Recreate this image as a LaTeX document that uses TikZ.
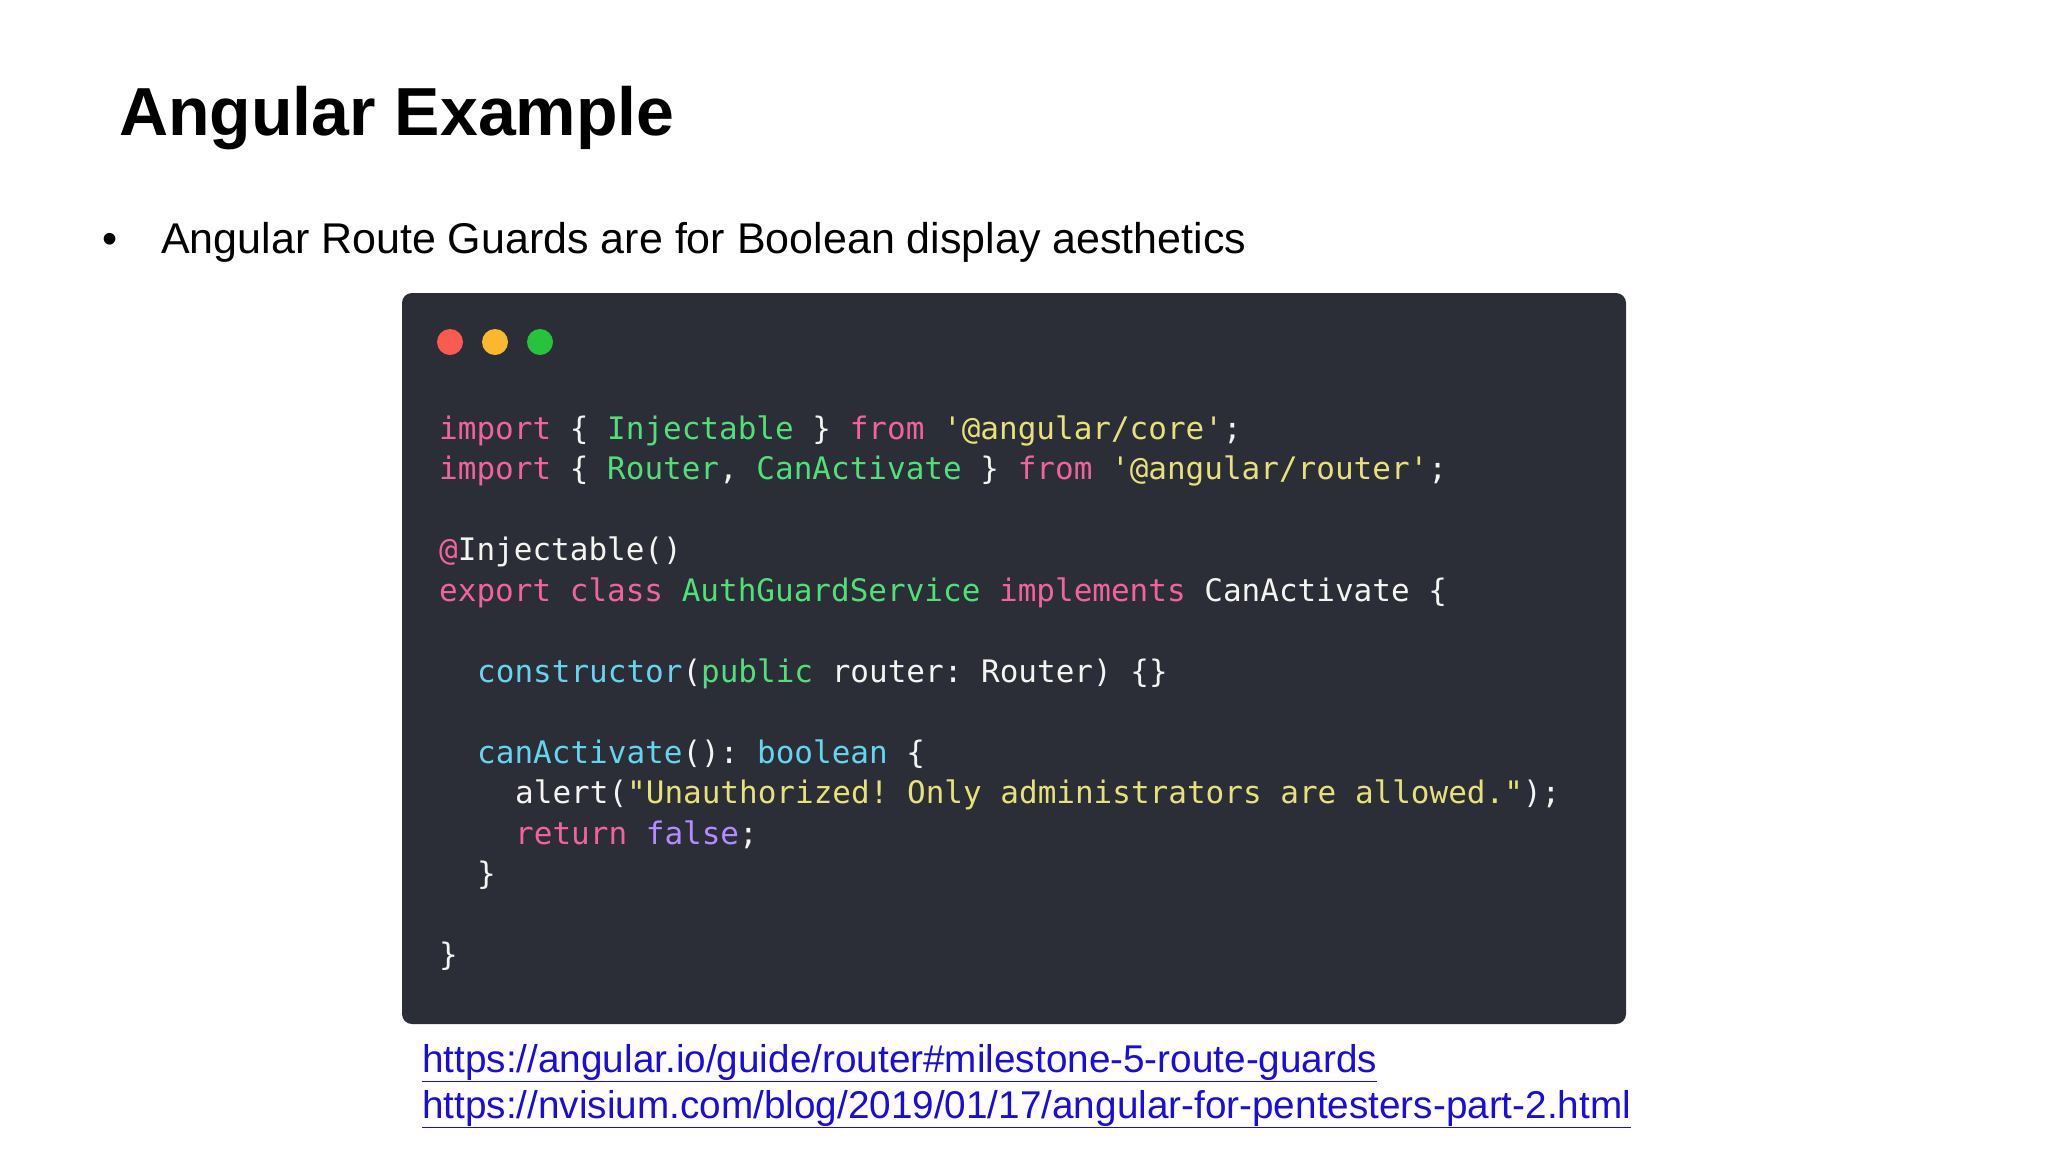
\documentclass[tikz,border=0pt]{standalone}
\usepackage{fontspec}
\setmainfont{Liberation Sans}
\setmonofont{DejaVu Sans Mono}
\definecolor{bg}{HTML}{2B2D37}
\definecolor{kw}{HTML}{F0649E}
\definecolor{gr}{HTML}{50E07A}
\definecolor{st}{HTML}{E8E17A}
\definecolor{cy}{HTML}{66D4EE}
\definecolor{pu}{HTML}{B48CFF}
\definecolor{wh}{HTML}{F4F4F0}
\definecolor{lk}{HTML}{1A0DDB}
\definecolor{dr}{HTML}{FA5A50}
\definecolor{dy}{HTML}{FAB92D}
\definecolor{dg}{HTML}{28C33C}
\newcommand{\K}[1]{\textcolor{kw}{#1}}
\newcommand{\G}[1]{\textcolor{gr}{#1}}
\newcommand{\Ss}[1]{\textcolor{st}{#1}}
\newcommand{\C}[1]{\textcolor{cy}{#1}}
\newcommand{\PU}[1]{\textcolor{pu}{#1}}
\begin{document}
\begin{tikzpicture}[x=1pt,y=-1pt,
  code/.style={anchor=base west,inner sep=0,text=wh,font=\fontsize{31}{31}\selectfont\ttfamily},
  link/.style={anchor=base west,inner sep=0,text=lk,font=\fontsize{38.7}{38.7}\selectfont}]
\useasboundingbox (0,0) rectangle (2048,1152);
\fill[white] (0,0) rectangle (2048,1152);
\node[anchor=base west,inner sep=0,font=\fontsize{68}{68}\selectfont\bfseries] (title) at (119,135) {Angular Example};
\node[anchor=base west,inner sep=0,font=\fontsize{43}{43}\selectfont] (bul) at (102,253) {•};
\node[anchor=base west,inner sep=0,font=\fontsize{43}{43}\selectfont] (bt) at (161,253) {Angular Route Guards are for Boolean display aesthetics};
\fill[bg,rounded corners=10] (402,293) rectangle (1626,1024);
\fill[dr] (450,342) circle (13);
\fill[dy] (495,342) circle (13);
\fill[dg] (540,342) circle (13);
\def\lh{40.5}
\node[code] (l1) at (439,439) {\K{import} \{ \G{Injectable} \} \K{from} \Ss{'@angular/core'};};
\node[code] (l2) at (439,439+\lh) {\K{import} \{ \G{Router}, \G{CanActivate} \} \K{from} \Ss{'@angular/router'};};
\node[code] (l3) at (439,439+3*\lh) {\K{@}Injectable()};
\node[code] (l4) at (439,439+4*\lh) {\K{export} \K{class} \G{AuthGuardService} \K{implements} CanActivate \{};
\node[code] (l5) at (477,439+6*\lh) {\C{constructor}(\G{public} router: Router) \{\}};
\node[code] (l6) at (477,439+8*\lh) {\C{canActivate}(): \C{boolean} \{};
\node[code] (l7) at (515,439+9*\lh) {alert(\Ss{"Unauthorized! Only administrators are allowed."});};
\node[code] (l8) at (515,439+10*\lh) {\K{return} \PU{false};};
\node[code] (l9) at (477,439+11*\lh) {\}};
\node[code] (l10) at (439,439+13*\lh) {\}};
\node[link] (u1) at (422,1072) {\underline{https://angular.io/guide/router\#milestone-5-route-guards}};
\node[link] (u2) at (422,1118) {\underline{https://nvisium.com/blog/2019/01/17/angular-for-pentesters-part-2.html}};
\end{tikzpicture}
\end{document}
